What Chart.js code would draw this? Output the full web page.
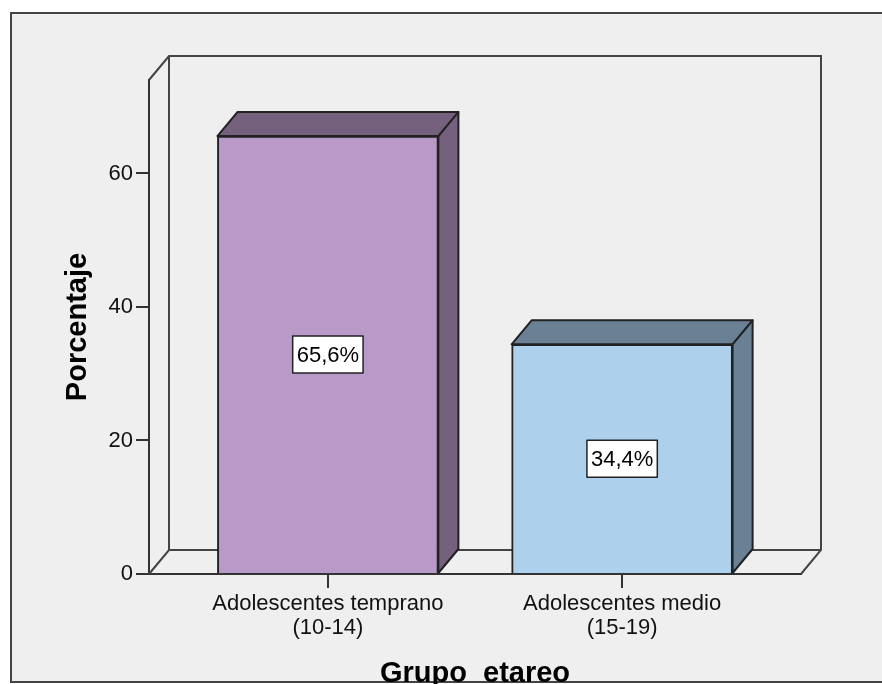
<!DOCTYPE html>
<html>
<head>
<meta charset="utf-8">
<script src="https://cdn.jsdelivr.net/npm/chart.js@4"></script>
<style>
  html, body { margin: 0; padding: 0; background: #fff; overflow: hidden; }
</style>
</head>
<body>
<canvas id="chart" width="882" height="684"></canvas>
<script>
// data
const groupNames = ["Adolescentes temprano", "Adolescentes medio"];
const groupRanges = ["(10-14)", "(15-19)"];
const percentages = [65.6, 34.4];
const yTicks = [0, 20, 40, 60];

const frontColors = ["#B899C8", "#ADD0ED"];
const shadeColors = ["#75617D", "#6A8094"];
const FONT = "'Liberation Sans', Arial, sans-serif";
const DX = 20, DY = 24;   // depth of the 3D box

// frame, back wall and the top/side faces of each bar
const box3d = {
    id: "box3d",
    beforeDraw(chart) {
        const ctx = chart.ctx;
        ctx.save();
        ctx.fillStyle = "#fff";
        ctx.fillRect(0, 0, chart.width, chart.height);
        ctx.fillStyle = "#EFEFEF";
        ctx.fillRect(11, 13, chart.width, 669);
        ctx.strokeStyle = "#444";
        ctx.lineWidth = 2;
        ctx.strokeRect(11, 13, chart.width + 20, 669);
        ctx.restore();
    },
    beforeDatasetsDraw(chart) {
        const { left, right, top, bottom } = chart.chartArea;
        const ctx = chart.ctx;
        ctx.save();
        ctx.strokeStyle = "#444";
        ctx.lineWidth = 2;
        ctx.beginPath();
        ctx.moveTo(left, top);
        ctx.lineTo(left + DX, top - DY);
        ctx.lineTo(right + DX, top - DY);
        ctx.lineTo(right + DX, bottom - DY);
        ctx.lineTo(right, bottom);
        ctx.moveTo(left, bottom);
        ctx.lineTo(left + DX, bottom - DY);
        ctx.lineTo(right + DX, bottom - DY);
        ctx.moveTo(left + DX, top - DY);
        ctx.lineTo(left + DX, bottom - DY);
        ctx.stroke();
        ctx.restore();
    },
    afterDatasetsDraw(chart) {
        const ctx = chart.ctx;
        const meta = chart.getDatasetMeta(0);
        ctx.save();
        ctx.lineWidth = 2;
        ctx.strokeStyle = "#222";
        ctx.lineJoin = "round";
        meta.data.forEach((bar, i) => {
            const { x, y, base, width } = bar.getProps(["x", "y", "base", "width"], true);
            const L = x - width / 2, R = x + width / 2;
            ctx.fillStyle = shadeColors[i];
            // top face
            ctx.beginPath();
            ctx.moveTo(L, y);
            ctx.lineTo(L + DX, y - DY);
            ctx.lineTo(R + DX, y - DY);
            ctx.lineTo(R, y);
            ctx.closePath();
            ctx.fill();
            ctx.stroke();
            // side face
            ctx.beginPath();
            ctx.moveTo(R, y);
            ctx.lineTo(R + DX, y - DY);
            ctx.lineTo(R + DX, base - DY);
            ctx.lineTo(R, base);
            ctx.closePath();
            ctx.fill();
            ctx.stroke();

            // value label in a white box
            const text = percentages[i].toFixed(1).replace(".", ",") + "%";
            ctx.font = "22px " + FONT;
            const w = Math.max(70, ctx.measureText(text).width + 8);
            const h = 37;
            const cy = (y + base) / 2;
            ctx.fillStyle = "#fff";
            ctx.fillRect(x - w / 2, cy - h / 2, w, h);
            ctx.lineWidth = 1.5;
            ctx.strokeRect(x - w / 2, cy - h / 2, w, h);
            ctx.lineWidth = 2;
            ctx.fillStyle = "#000";
            ctx.textAlign = "center";
            ctx.textBaseline = "middle";
            ctx.fillText(text, x, cy + 1);
        });
        ctx.restore();
    }
};

const ctx = document.getElementById("chart").getContext("2d");
new Chart(ctx, {
    type: "bar",
    data: {
        datasets: [{
            data: percentages.map((p, i) => ({ x: i, y: p })),
            backgroundColor: frontColors,
            borderColor: "#222",
            borderWidth: 2,
            barThickness: 221
        }]
    },
    options: {
        responsive: false,
        animation: false,
        layout: { padding: { top: 80, right: 81, left: 0, bottom: 0 } },
        plugins: { legend: { display: false }, tooltip: { enabled: false } },
        scales: {
            x: {
                type: "linear",
                offset: false,
                min: -0.608,
                max: 1.608,
                afterBuildTicks: s => { s.ticks = groupNames.map((_, i) => ({ value: i })); },
                afterFit: s => { s.height = 110; },
                ticks: {
                    callback: (v, i) => [groupNames[i], groupRanges[i]],
                    color: "#111",
                    font: { family: FONT, size: 22, lineHeight: 1.1 },
                    padding: 4,
                    maxRotation: 0,
                    autoSkip: false
                },
                grid: { offset: false, drawOnChartArea: false, drawTicks: true, tickLength: 14, color: "#333", lineWidth: 2 },
                border: { display: true, color: "#333", width: 2 },
                title: {
                    display: true,
                    text: "Grupo_etareo",
                    color: "#000",
                    font: { family: FONT, size: 29, weight: "bold", lineHeight: 0.7 },
                    padding: 0
                }
            },
            y: {
                min: 0,
                max: 74,
                afterBuildTicks: s => { s.ticks = yTicks.map(v => ({ value: v })); },
                afterFit: s => { s.width = 149; },
                ticks: { color: "#111", font: { family: FONT, size: 22 }, padding: 3 },
                grid: { drawOnChartArea: false, drawTicks: true, tickLength: 13, color: "#333", lineWidth: 2 },
                border: { display: true, color: "#333", width: 2 },
                title: {
                    display: true,
                    text: "Porcentaje",
                    color: "#000",
                    font: { family: FONT, size: 29, weight: "bold" },
                    padding: { top: 61, bottom: 0 }
                }
            }
        }
    },
    plugins: [box3d]
});
</script>
</body>
</html>
